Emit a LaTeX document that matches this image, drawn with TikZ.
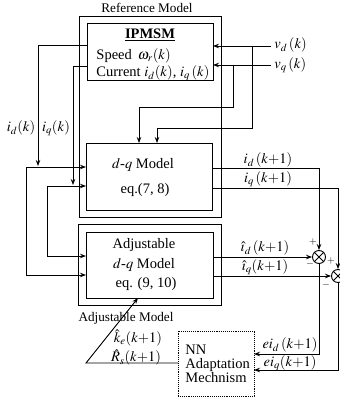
\documentclass[tikz,border=0pt]{standalone}
\usepackage{mathptmx}
\usepackage[no-math]{fontspec}
\setmainfont{Liberation Serif}
\usetikzlibrary{arrows.meta,calc}
\newcommand{\mfs}{\fontsize{14.5}{16}\selectfont}
\newcommand{\cfs}{\fontsize{13.2}{15}\selectfont}
\newcommand{\lfs}{\fontsize{14.5}{16}\selectfont}
\begin{document}
\begin{tikzpicture}[x=1pt,y=-1pt,line width=0.9pt,
  >={Stealth[length=6pt,width=4.5pt]},
  blk/.style={draw,rectangle,inner sep=0pt,outer sep=0pt},
  nnblk/.style={draw,rectangle,inner sep=0pt,outer sep=0pt,densely dotted},
  txt/.style={inner sep=0pt,font=\mfs},
  captxt/.style={inner sep=0pt,font=\cfs},
  lab/.style={inner sep=0pt,font=\lfs},
  sgn/.style={inner sep=0pt,font=\fontsize{10}{10}\selectfont},
  sumj/.style={draw,circle,inner sep=0pt,minimum size=13pt,fill=white}]
\useasboundingbox (0,0) rectangle (340,397);

% boxes
\node[blk,minimum width=142pt,minimum height=201pt] (refouter) at (150,116.5) {};
\node[blk,minimum width=126pt,minimum height=57pt] (ipmsm) at (150,51.5) {};
\node[blk,minimum width=126pt,minimum height=67pt] (dq) at (149,176.5) {};
\node[blk,minimum width=143pt,minimum height=81pt] (adjouter) at (149.5,264.5) {};
\node[blk,minimum width=127pt,minimum height=66pt] (adj) at (149.5,265) {};
\node[nnblk,minimum width=76pt,minimum height=65pt] (nn) at (216,363.5) {};

% captions
\node[captxt] (refcap) at (147,8) {Reference Model};
\node[captxt] (adjcap) at (126,318) {Adjustable Model};

% IPMSM text
\node[txt] (ipt) at (150,35) {\underline{\textbf{IPMSM}}};
\node[txt,anchor=west] (ips) at (96,55.5) {Speed\ \,$\omega_r(k)$};
\node[txt,anchor=west] (ipc) at (96,73.5) {Current $i_d(k)$, $i_q\,(k)$};

% dq text
\node[txt] (dqt1) at (143,165) {$d$-$q$ Model};
\node[txt] (dqt2) at (145,190) {eq.(7, 8)};

% adjustable text
\node[txt] (adt1) at (144,245) {Adjustable};
\node[txt] (adt2) at (144,265) {$d$-$q$ Model};
\node[txt] (adt3) at (146,284) {eq. (9, 10)};

% NN text
\node[txt,anchor=west,align=left] (nnt) at (185,364) {NN\\[-2pt]Adaptation\\[-2pt]Mechnism};

% summing junctions
\node[sumj] (j1) at (319,257) {};
\node[sumj] (j2) at (338,276) {};
\draw (j1.north east) -- (j1.south west) (j1.north west) -- (j1.south east);
\draw (j2.north east) -- (j2.south west) (j2.north west) -- (j2.south east);

% inputs v_d, v_q
\node[lab,anchor=west] (vd) at (274,45) {$v_d\,(k)$};
\node[lab,anchor=west] (vq) at (274,65) {$v_q\,(k)$};
\coordinate (vdin) at (271,46);
\coordinate (vqin) at (271,65);
\draw[->] (vdin) -- (vdin -| ipmsm.east);
\draw[->] (vqin) -- (vqin -| ipmsm.east);
\coordinate (bd) at (252,46);
\coordinate (bq) at (233,65);
\draw[->] (bd) -- (252,128) -- (157,128) -- (157,128 |- dq.north);
\draw[->] (bq) -- (233,107) -- (139,107) -- (139,107 |- dq.north);

% measured currents
\node[lab] (idk) at (21,128) {$i_d(k)$};
\node[lab] (iqk) at (56,128) {$i_q(k)$};
\draw[->] (ipmsm.west |- 0,45) -| (38,166);
\draw[->] (ipmsm.west |- 0,66) -| (73,185);
\draw[->] (26,167) -- (dq.west |- 0,167);
\draw[->] (26,167) |- (adj.west |- 0,275);
\draw[->] (47,186) -- (dq.west |- 0,186);
\draw[->] (47,186) |- (adj.west |- 0,256);

% outputs
\node[lab] (idn) at (268,160) {$i_d\,(k{+}1)$};
\node[lab] (iqn) at (268,179) {$i_q\,(k{+}1)$};
\node[lab] (idh) at (265,248) {$\hat{\imath}_d\,(k{+}1)$};
\node[lab] (iqh) at (265,267) {$\hat{\imath}_q(k{+}1)$};
\draw[->] (dq.east |- 0,168) -| (j1.north);
\draw[->] (dq.east |- 0,188) -| (j2.north);
\draw[->] (adj.east |- j1) -- (j1.west);
\draw[->] (adj.east |- j2) -- (j2.west);

% signs
\node[sgn] (p1) at (313,242) {$+$};
\node[sgn] (m1) at (310,264) {$-$};
\node[sgn] (p2) at (331,261) {$+$};
\node[sgn] (m2) at (326,285) {$-$};

% errors
\node[lab] (eid) at (290,345) {$ei_d\,(k{+}1)$};
\node[lab] (eiq) at (290,363) {$ei_q(k{+}1)$};
\draw[->] (j1.south) |- (nn.east |- 0,354);
\draw[->] (j2.south) |- (nn.east |- 0,370);

% adaptation output
\node[lab] (ke) at (138,338) {$\hat{k}_e(k{+}1)$};
\node[lab] (rs) at (136,357.5) {$\hat{R}_s(k{+}1)$};
\coordinate (corner) at (86,363);
\draw[->] (nn.west |- corner) -- (corner) -- (138,299 |- adj.south);
\end{tikzpicture}
\end{document}
